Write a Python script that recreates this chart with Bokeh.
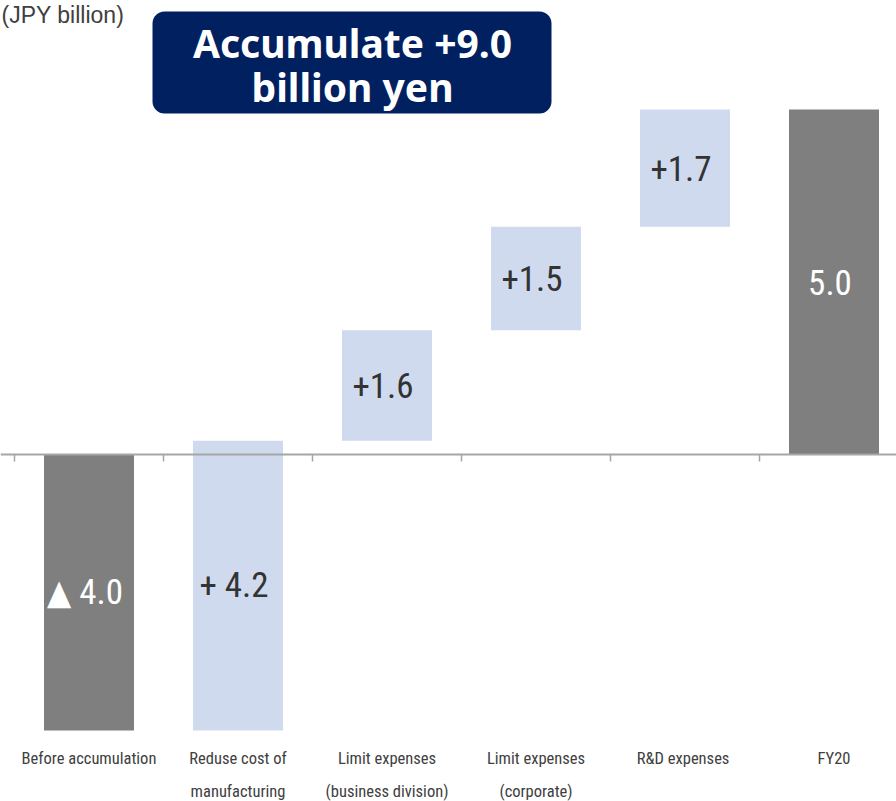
from bokeh.plotting import figure
from bokeh.models import ColumnDataSource, BoxAnnotation, Span
from bokeh.core.properties import value
from bokeh.embed import file_html
from bokeh.resources import INLINE

# ---- data ----
categories = ["Before accumulation", "Reduse cost of\nmanufacturing",
              "Limit expenses\n(business division)", "Limit expenses\n(corporate)",
              "R&D  expenses", "FY20"]
values = [-4.0, 4.2, 1.6, 1.5, 1.7, 5.0]
is_total = [True, False, False, False, False, True]
bar_labels = ["▲ 4.0", "+ 4.2", "+1.6", "+1.5", "+1.7", "5.0"]
unit_label = "(JPY billion)"
headline = ["Accumulate +9.0", "billion yen"]

# ---- waterfall geometry from values ----
xs = list(range(len(categories)))
bottoms, tops = [], []
running = 0.0
for v, tot in zip(values, is_total):
    if tot:
        bottoms.append(0.0)
        tops.append(v)
        running = v
    else:
        bottoms.append(running)
        running = running + v
        tops.append(running)

GRAY = "#7f7f7f"
LIGHT = "#cfdaee"
colors = [GRAY if t else LIGHT for t in is_total]
label_colors = ["white" if t else "#333333" for t in is_total]
mids = [(b + t) / 2 for b, t in zip(bottoms, tops)]

src = ColumnDataSource(dict(x=xs, bottom=bottoms, top=tops, color=colors,
                            lab=bar_labels, labcol=label_colors, mid=mids))

PX = 149.0   # px per category
PY = 69.0    # px per unit
x0 = -0.5 - 14 / PX
x1 = -0.5 + 882 / PX
y0 = -(801 - 454) / PY
y1 = 454 / PY

p = figure(width=896, height=801, x_range=(x0, x1), y_range=(y0, y1),
           output_backend="svg", toolbar_location=None, min_border=0)
p.axis.visible = False
p.grid.visible = False
p.outline_line_color = None
p.background_fill_color = "white"
p.border_fill_color = "white"

NARROW = value("'Liberation Sans Narrow', 'Arial Narrow', 'Roboto Condensed', 'DejaVu Sans Condensed', sans-serif")

# headline box (drawn beneath glyphs)
box = BoxAnnotation(left=-0.5 + 138 / PX, right=-0.5 + 537 / PX,
                    top=(454 - 11) / PY, bottom=(454 - 113) / PY,
                    fill_color="#002060", fill_alpha=1.0, line_color=None,
                    border_radius=12, level="underlay")
p.add_layout(box)

p.vbar(x="x", bottom="bottom", top="top", width=90 / PX, color="color",
       line_color=None, source=src)

# baseline and ticks
p.add_layout(Span(location=0, dimension="width", line_color="#a6a6a6", line_width=2))
tick_x = [i - 0.5 for i in range(len(categories))]
p.segment(x0=tick_x, y0=[0] * len(tick_x), x1=tick_x, y1=[-7 / PY] * len(tick_x),
          line_color="#a6a6a6", line_width=1.5)

# bar value labels
p.text(x="x", y="mid", text="lab", text_color="labcol", source=src,
       text_font=NARROW, text_font_size="35px", text_align="center",
       text_baseline="middle", x_offset=-4)

# category labels
line1 = [c.split("\n")[0] for c in categories]
line2 = [c.split("\n")[1] if "\n" in c else "" for c in categories]
p.text(x=xs, y=[-(758 - 454) / PY] * len(xs), text=line1, text_font=NARROW,
       text_font_size="16.5px", text_color="#404040", text_align="center",
       text_baseline="middle")
p.text(x=xs, y=[-(791 - 454) / PY] * len(xs), text=line2, text_font=NARROW,
       text_font_size="16.5px", text_color="#404040", text_align="center",
       text_baseline="middle")

# unit label
p.text(x=[-0.5 - 13 / PX], y=[(454 - 14) / PY], text=[unit_label],
       text_font=value("Liberation Sans"), text_font_size="23px",
       text_color="#404040", text_align="left", text_baseline="middle")

# headline text
cx = -0.5 + (352 - 14) / PX
p.text(x=[cx, cx], y=[(454 - 42) / PY, (454 - 86) / PY], text=headline,
       text_font=value("Noto Sans"), text_font_style="bold", text_font_size="39px",
       text_color="white", text_align="center", text_baseline="middle")

open("out.html", "w").write(file_html(p, INLINE))
